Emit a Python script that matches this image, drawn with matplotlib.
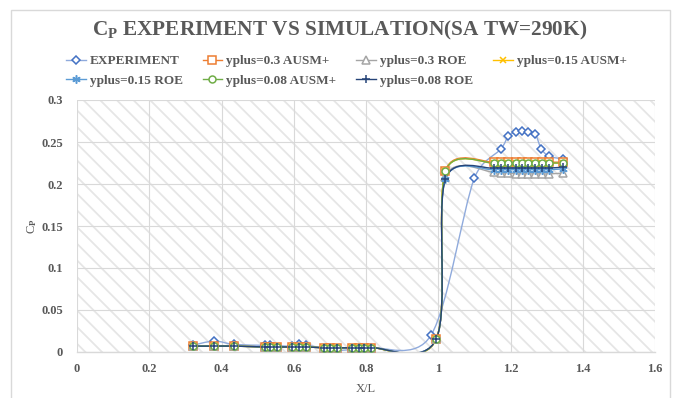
import numpy as np
import matplotlib
matplotlib.use('Agg')
import matplotlib.pyplot as plt
from matplotlib.path import Path
from matplotlib.patches import PathPatch, Rectangle
from matplotlib.lines import Line2D

plt.rcParams['font.family'] = 'Liberation Serif'
plt.rcParams['font.weight'] = 'bold'
plt.rcParams['mathtext.fontset'] = 'custom'
plt.rcParams['mathtext.rm'] = 'Liberation Serif:bold'
plt.rcParams['mathtext.it'] = 'Liberation Serif:bold'
plt.rcParams['hatch.linewidth'] = 1.3

#-------------------------------------data----------------------------------------
x_exp = [0.32, 0.38, 0.435, 0.52, 0.535, 0.595, 0.615, 0.635, 0.685, 0.70, 0.72,
         0.76, 0.78, 0.795, 0.815, 0.98, 1.10, 1.174, 1.194, 1.215, 1.231, 1.249,
         1.269, 1.285, 1.307, 1.345]
cp_exp = [0.008, 0.013, 0.009, 0.008, 0.008, 0.007, 0.010, 0.008, 0.005, 0.005, 0.002,
          0.003, 0.005, 0.005, 0.005, 0.020, 0.207, 0.242, 0.257, 0.262, 0.263, 0.262,
          0.259, 0.242, 0.233, 0.230]

x_sim = [0.32, 0.38, 0.435, 0.52, 0.535, 0.555, 0.595, 0.615, 0.635, 0.685, 0.70, 0.72,
         0.76, 0.78, 0.795, 0.815, 0.995, 1.02, 1.155, 1.174, 1.194, 1.215, 1.231, 1.249,
         1.269, 1.288, 1.307, 1.345]
# upstream part is the same for every simulation
cp_sim_low = [0.007, 0.007, 0.007, 0.006, 0.006, 0.006, 0.006, 0.006, 0.006, 0.005, 0.005,
              0.005, 0.005, 0.005, 0.005, 0.005, 0.016]
cp_y03_ausm = [0.216, 0.226, 0.226, 0.226, 0.226, 0.226, 0.226, 0.226, 0.226, 0.226, 0.226]
cp_y03_roe = [0.208, 0.214, 0.213, 0.213, 0.212, 0.212, 0.212, 0.212, 0.212, 0.212, 0.213]
cp_y015_ausm = [0.215, 0.225, 0.225, 0.225, 0.225, 0.225, 0.225, 0.225, 0.225, 0.225, 0.225]
cp_y015_roe = [0.206, 0.217, 0.217, 0.217, 0.217, 0.217, 0.217, 0.217, 0.217, 0.217, 0.218]
cp_y008_ausm = [0.215, 0.225, 0.225, 0.225, 0.225, 0.225, 0.225, 0.225, 0.225, 0.225, 0.225]
cp_y008_roe = [0.206, 0.219, 0.219, 0.219, 0.219, 0.219, 0.219, 0.219, 0.219, 0.219, 0.220]

series = [
    ('EXPERIMENT', x_exp, cp_exp, '#4472c4', '#8faadc', 'D', 4.5),
    ('yplus=0.3 AUSM+', x_sim, cp_sim_low + cp_y03_ausm, '#ed7d31', '#ed7d31', 's', 5.5),
    ('yplus=0.3 ROE', x_sim, cp_sim_low + cp_y03_roe, '#a5a5a5', '#a5a5a5', '^', 5.5),
    ('yplus=0.15 AUSM+', x_sim, cp_sim_low + cp_y015_ausm, '#ffc000', '#ffc000', 'x', 5),
    ('yplus=0.15 ROE', x_sim, cp_sim_low + cp_y015_roe, '#5b9bd5', '#5b9bd5', (6, 2, 0), 6),
    ('yplus=0.08 AUSM+', x_sim, cp_sim_low + cp_y008_ausm, '#70ad47', '#70ad47', 'o', 5),
    ('yplus=0.08 ROE', x_sim, cp_sim_low + cp_y008_roe, '#264478', '#264478', '+', 6),
]

txt = '#595959'
grid = '#d9d9d9'
# rough pixels per data unit, the smoothing works in screen space
sx, sy = 361.0, 840.0


def smooth_path(x, y):
    # smoothed line: bezier segments, tangent = 1/6 of neighbour chord,
    # capped at half the segment length
    p = np.column_stack([x, y])
    q = p * [sx, sy]
    n = len(p)
    verts = [p[0]]
    codes = [Path.MOVETO]
    for i in range(n - 1):
        a = max(i - 1, 0)
        b = min(i + 2, n - 1)
        half = np.hypot(*(q[i + 1] - q[i])) / 2
        t1 = (q[i + 1] - q[a]) / 6
        t2 = (q[b] - q[i]) / 6
        for t in (t1, t2):
            m = np.hypot(*t)
            if m > half:
                t *= half / m
        verts += [(q[i] + t1) / [sx, sy], (q[i + 1] - t2) / [sx, sy], p[i + 1]]
        codes += [Path.CURVE4] * 3
    return Path(verts, codes)


fig = plt.figure(figsize=(6.79, 3.98), dpi=100)
ax = fig.add_axes([77 / 679, 1 - 352 / 398, (655 - 77) / 679, (352 - 100) / 398])
ax.add_patch(Rectangle((0, 0), 1, 1, transform=ax.transAxes, facecolor='white',
                       edgecolor='#e6e6e6', lw=0, hatch='\\\\', zorder=0))

handles = []
for label, xs, ys, mc, lc, mk, ms in series:
    ax.add_patch(PathPatch(smooth_path(xs, ys), fill=False, edgecolor=lc, lw=1.0, zorder=2))
    ax.plot(xs, ys, ls='none', marker=mk, ms=ms, mec=mc, mfc='white', mew=1.1, zorder=3)
    handles.append(Line2D([], [], color=lc, lw=1.0, marker=mk, ms=ms, mec=mc,
                          mfc='white', mew=1.1, label=label))

ax.set_xlim(0, 1.6)
ax.set_ylim(0, 0.3)
ax.set_xticks(np.arange(0, 1.61, 0.2))
ax.set_yticks(np.arange(0, 0.31, 0.05))
ax.set_xticklabels(['0', '0.2', '0.4', '0.6', '0.8', '1', '1.2', '1.4', '1.6'])
ax.set_yticklabels(['0', '0.05', '0.1', '0.15', '0.2', '0.25', '0.3'])
ax.tick_params(length=0, labelsize=9, labelcolor=txt)
ax.tick_params(axis='y', pad=10)
ax.tick_params(axis='x', pad=8)
ax.grid(True, color=grid, lw=0.8, zorder=1)
ax.set_axisbelow(True)
for s in ['top', 'right', 'left']:
    ax.spines[s].set_visible(False)
ax.spines['bottom'].set_color(grid)
ax.spines['bottom'].set_linewidth(1.0)

ax.set_xlabel('X/L', fontsize=9, color=txt, labelpad=6)
ax.set_ylabel(r'C$_\mathrm{P}$', fontsize=9, color=txt, labelpad=2)

fig.text(0.5, 1 - 30 / 398, r'C$_\mathrm{P}$ EXPERIMENT VS SIMULATION(SA TW=290K)',
         ha='center', va='center', fontsize=15.3, color=txt)

# excel fills the legend row by row
order = [0, 4, 1, 5, 2, 6, 3]
fig.legend([handles[i] for i in order], [handles[i].get_label() for i in order],
           loc='center', bbox_to_anchor=(0.51, 1 - 71 / 398), ncol=4, frameon=False,
           fontsize=9.5, labelcolor=txt, handlelength=1.5, handletextpad=0.3,
           columnspacing=1.5, labelspacing=0.55, borderpad=0)

fig.patches.append(Rectangle((11 / 679, -0.05), (670 - 11) / 679, 1.05 - 10 / 398,
                             transform=fig.transFigure, fill=False, edgecolor=grid, lw=1.0))

plt.savefig('out.png', dpi=100)
